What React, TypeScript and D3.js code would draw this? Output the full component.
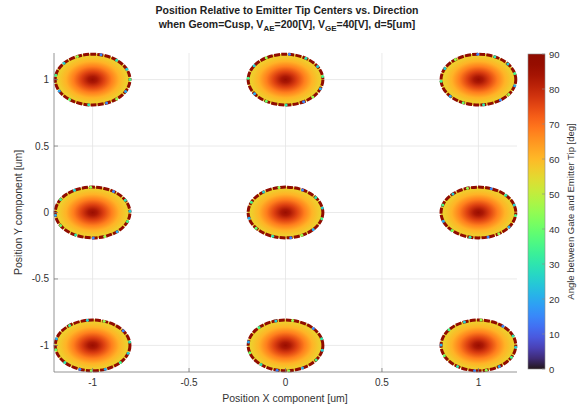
import React from "react";
import * as d3 from "d3";

const tipX = [-1, 0, 1];
const tipY = [-1, 0, 1];
const tipRadius = 0.2;
const radialFrac = [0, 0.12, 0.3, 0.5, 0.7, 0.88, 1];
const radialAngle = [86, 83, 76, 68, 61, 57, 55];
const ringValue = 90;
const accentPhi = [8, 35, 72, 98, 128, 165, 190, 222, 250, 268, 290, 318, 342];
const accentValue = [30, 15, 45, 25, 35, 20, 40, 30, 15, 45, 20, 35, 25];
const xTicks = [-1, -0.5, 0, 0.5, 1];
const yTicks = [-1, -0.5, 0, 0.5, 1];
const cbTicks = [0, 10, 20, 30, 40, 50, 60, 70, 80, 90];

const W = 584;
const H = 415;
const font = "'Liberation Sans', Arial, Helvetica, sans-serif";

export default function App() {
  const x = d3.scaleLinear().domain([-1.2, 1.2]).range([54, 517]);
  const y = d3.scaleLinear().domain([-1.2, 1.2]).range([372, 53]);
  const cb = d3.scaleLinear().domain([0, 90]).range([369, 54]);
  const color = (v: number) => d3.interpolateTurbo(v / 90);
  const rx = x(tipRadius) - x(0);
  const ry = y(0) - y(tipRadius);
  const centers: [number, number][] = [];
  tipY.forEach((ty) => tipX.forEach((tx) => centers.push([tx, ty])));
  const cbStops = d3.range(0, 91, 3);
  const fmt = (v: number) => (v === 0 ? "0" : String(v));

  return (
    <svg width={W} height={H} style={{ position: "absolute", left: 0, top: 0, background: "#fff" }} fontFamily={font}>
      <defs>
        <radialGradient id="tipGrad" cx="0.5" cy="0.5" r="0.5">
          {radialFrac.map((f, i) => (
            <stop key={i} offset={f} stopColor={color(radialAngle[i])} />
          ))}
        </radialGradient>
        <linearGradient id="cbGrad" x1="0" y1="1" x2="0" y2="0">
          {cbStops.map((v) => (
            <stop key={v} offset={v / 90} stopColor={color(v)} />
          ))}
        </linearGradient>
      </defs>
      <rect x={0} y={0} width={W} height={H} fill="#fff" />
      {/* grid */}
      {xTicks.map((t) => (
        <line key={"gx" + t} x1={x(t)} x2={x(t)} y1={y(-1.2)} y2={y(1.2)} stroke="#e4e4e4" strokeWidth={0.8} />
      ))}
      {yTicks.map((t) => (
        <line key={"gy" + t} x1={x(-1.2)} x2={x(1.2)} y1={y(t)} y2={y(t)} stroke="#e4e4e4" strokeWidth={0.8} />
      ))}
      {/* tips */}
      {centers.map(([cx, cy], i) => (
        <g key={i}>
          <ellipse cx={x(cx)} cy={y(cy)} rx={rx - 0.5} ry={ry - 0.5} fill="url(#tipGrad)" />
          <ellipse
            cx={x(cx)}
            cy={y(cy)}
            rx={rx - 1.2}
            ry={ry - 1.2}
            fill="none"
            stroke={color(ringValue)}
            strokeWidth={3}
            strokeDasharray="6 1.2"
            strokeDashoffset={i * 2}
          />
          {accentPhi.map((p, k) => {
            const a = ((p + i * 7) * Math.PI) / 180;
            return (
              <circle
                key={k}
                cx={x(cx) + (rx - 1.2) * Math.cos(a)}
                cy={y(cy) - (ry - 1.2) * Math.sin(a)}
                r={1.5}
                fill={color(accentValue[k])}
              />
            );
          })}
        </g>
      ))}
      {/* axes */}
      <line x1={x(-1.2)} x2={x(1.2)} y1={y(-1.2)} y2={y(-1.2)} stroke="#7a7a7a" strokeWidth={0.8} />
      <line x1={x(-1.2)} x2={x(-1.2)} y1={y(-1.2)} y2={y(1.2)} stroke="#7a7a7a" strokeWidth={0.8} />
      {xTicks.map((t) => (
        <g key={"tx" + t}>
          <line x1={x(t)} x2={x(t)} y1={y(-1.2)} y2={y(-1.2) - 4} stroke="#7a7a7a" strokeWidth={0.8} />
          <text x={x(t)} y={386} textAnchor="middle" fontSize={10} fill="#333">
            {fmt(t)}
          </text>
        </g>
      ))}
      {yTicks.map((t) => (
        <g key={"ty" + t}>
          <line x1={x(-1.2)} x2={x(-1.2) + 4} y1={y(t)} y2={y(t)} stroke="#7a7a7a" strokeWidth={0.8} />
          <text x={49} y={y(t) + 3.5} textAnchor="end" fontSize={10} fill="#333">
            {fmt(t)}
          </text>
        </g>
      ))}
      <text x={285} y={402} textAnchor="middle" fontSize={10.5} fill="#333">
        Position X component [um]
      </text>
      <text
        transform={`translate(22,${(y(-1.2) + y(1.2)) / 2}) rotate(-90)`}
        textAnchor="middle"
        fontSize={10.5}
        fill="#333"
      >
        Position Y component [um]
      </text>
      {/* title */}
      <text x={287} y={14} textAnchor="middle" fontSize={10.5} fontWeight="bold" fill="#222">
        Position Relative to Emitter Tip Centers vs. Direction
      </text>
      <text x={287} y={28} textAnchor="middle" fontSize={10.5} fontWeight="bold" fill="#222">
        <tspan>when Geom=Cusp, V</tspan>
        <tspan fontSize={8} dy={3}>AE</tspan>
        <tspan dy={-3}>=200[V], V</tspan>
        <tspan fontSize={8} dy={3}>GE</tspan>
        <tspan dy={-3}>=40[V], d=5[um]</tspan>
      </text>
      {/* colorbar */}
      <rect x={528} y={cb(90)} width={17} height={cb(0) - cb(90)} fill="url(#cbGrad)" />
      <rect x={528} y={cb(90)} width={17} height={cb(0) - cb(90)} fill="none" stroke="#8a8a8a" strokeWidth={0.6} />
      {cbTicks.map((t) => (
        <g key={"cb" + t}>
          <line x1={545} x2={542} y1={cb(t)} y2={cb(t)} stroke="#8a8a8a" strokeWidth={0.6} />
          <text x={549} y={cb(t) + 3.5} fontSize={9.5} fill="#333">
            {t}
          </text>
        </g>
      ))}
      <text
        transform={`translate(574,${(cb(0) + cb(90)) / 2}) rotate(-90)`}
        textAnchor="middle"
        fontSize={9.5}
        fill="#333"
      >
        Angle between Gate and Emitter Tip [deg]
      </text>
    </svg>
  );
}
